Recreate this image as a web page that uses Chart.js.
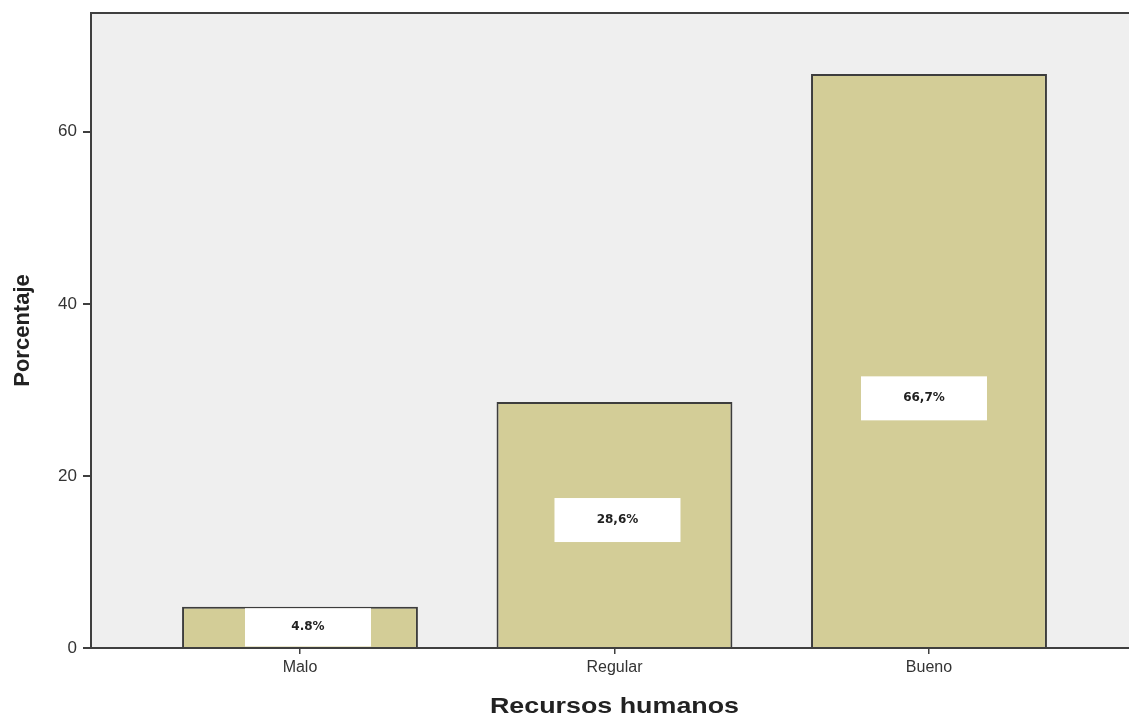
<!DOCTYPE html>
<html>
<head>
<meta charset="utf-8">
<title>Recursos humanos</title>
<script src="https://cdn.jsdelivr.net/npm/chart.js@4/dist/chart.umd.min.js"></script>
<style>
  html, body { margin: 0; padding: 0; background: #ffffff; }
  #wrap { width: 1129px; height: 715px; }
</style>
</head>
<body>
<div id="wrap"><canvas id="chart" width="1129" height="715"></canvas></div>
<script>
// ============================================
// DATOS
// ============================================
const categories = ['Malo', 'Regular', 'Bueno'];
const percentages = [4.8, 28.6, 66.7];
const valueLabels = ['4.8%', '28,6%', '66,7%'];
const yTicks = [0, 20, 40, 60];
const xTitle = 'Recursos humanos';

const AXIS_COLOR = '#3f3f3f';

// fondo gris del area del grafico + marco superior
const plotBackground = {
    id: 'plotBackground',
    beforeDraw(chart) {
        const { ctx, chartArea: a } = chart;
        ctx.save();
        ctx.fillStyle = '#efefef';
        ctx.fillRect(a.left, a.top, a.right - a.left, a.bottom - a.top);
        ctx.strokeStyle = AXIS_COLOR;
        ctx.lineWidth = 2;
        ctx.beginPath();
        ctx.moveTo(a.left, a.top);
        ctx.lineTo(a.right, a.top);
        ctx.stroke();
        ctx.restore();
    }
};

// cajas blancas con el porcentaje
const valueBoxes = {
    id: 'valueBoxes',
    afterDatasetsDraw(chart, args, opts) {
        const { ctx } = chart;
        const meta = chart.getDatasetMeta(0);
        const yScale = chart.scales.y;
        ctx.save();
        meta.data.forEach((bar, i) => {
            const v = percentages[i];
            const top = yScale.getPixelForValue(v);
            const bottom = yScale.getPixelForValue(0);
            const cy = yScale.getPixelForValue(v * opts.anchor[i]);
            const cx = bar.x + opts.shift[i];
            const h = Math.min(opts.boxHeight, bottom - top - 3);
            const w = opts.boxWidth;
            ctx.fillStyle = '#ffffff';
            ctx.fillRect(cx - w / 2, cy - h / 2, w, h);
            ctx.fillStyle = '#222222';
            ctx.font = 'bold 12px "DejaVu Sans"';
            ctx.textAlign = 'center';
            ctx.textBaseline = 'middle';
            ctx.fillText(valueLabels[i], cx, cy);
        });
        ctx.restore();
    }
};

// titulo del eje X, algo ensanchado como en el original
const xAxisTitle = {
    id: 'xAxisTitle',
    afterDraw(chart) {
        const { ctx } = chart;
        const cx = chart.scales.x.getPixelForValue(1);
        ctx.save();
        ctx.translate(cx, 707);
        ctx.scale(1.22, 1);
        ctx.fillStyle = '#222222';
        ctx.font = 'bold 22px Arial, "Liberation Sans"';
        ctx.textAlign = 'center';
        ctx.textBaseline = 'middle';
        ctx.fillText(xTitle, 0, 0);
        ctx.restore();
    }
};

const ctx = document.getElementById('chart').getContext('2d');

new Chart(ctx, {
    type: 'bar',
    data: {
        datasets: [{
            data: percentages.map((p, i) => ({ x: i, y: p })),
            backgroundColor: '#d3cd97',
            borderColor: '#3d3d3d',
            borderWidth: 2,
            borderSkipped: 'bottom',
            categoryPercentage: 1,
            barPercentage: 0.75,
        }]
    },
    options: {
        responsive: false,
        animation: false,
        layout: { padding: { top: 13, right: 0, left: 0, bottom: 0 } },
        plugins: {
            legend: { display: false },
            tooltip: { enabled: false },
            valueBoxes: { boxWidth: 126, boxHeight: 44, anchor: [0.5, 0.52, 0.435], shift: [8, 3, -5] }
        },
        scales: {
            x: {
                type: 'linear',
                offset: false,
                min: -0.6645,
                max: 2.636,
                afterBuildTicks: s => { s.ticks = categories.map((c, i) => ({ value: i })); },
                afterFit: s => { s.height = 67; s.paddingLeft = 0; s.paddingRight = 0; },
                grid: { offset: false, drawOnChartArea: false, color: AXIS_COLOR, tickLength: 6, lineWidth: 1.5 },
                border: { color: AXIS_COLOR, width: 2 },
                ticks: {
                    color: '#333333',
                    font: { family: 'Arial, "Liberation Sans"', size: 16 },
                    padding: 4,
                    maxRotation: 0,
                    callback: v => categories[v]
                }
            },
            y: {
                min: 0,
                max: 73.8,
                afterBuildTicks: s => { s.ticks = yTicks.map(v => ({ value: v })); },
                afterFit: s => { s.width = 91; s.paddingTop = 0; s.paddingBottom = 0; },
                grid: { drawOnChartArea: false, color: AXIS_COLOR, tickLength: 8, lineWidth: 2 },
                border: { color: AXIS_COLOR, width: 2 },
                ticks: {
                    color: '#333333',
                    font: { family: 'Arial, "Liberation Sans"', size: 17 },
                    padding: 6
                },
                title: {
                    display: true,
                    text: 'Porcentaje',
                    color: '#222222',
                    font: { family: 'Arial, "Liberation Sans"', size: 22, weight: 'bold' },
                    padding: { top: 10, bottom: 0 }
                }
            }
        }
    },
    plugins: [plotBackground, valueBoxes, xAxisTitle]
});
</script>
</body>
</html>
